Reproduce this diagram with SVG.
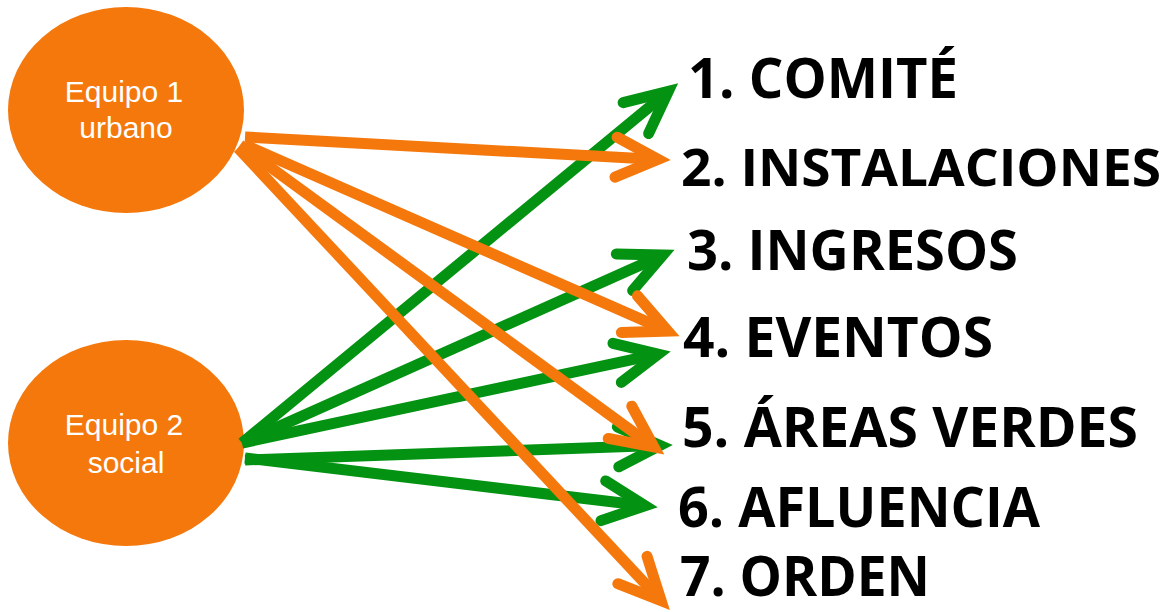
<svg xmlns="http://www.w3.org/2000/svg" width="1172" height="612" viewBox="0 0 1172 612">
<style>
.node{fill:#F4780C;}
.nt{font-family:"Liberation Sans",Arial,sans-serif;font-size:30px;fill:#ffffff;text-anchor:middle;}
.lbl{font-family:"Open Sans","Liberation Sans",sans-serif;font-weight:bold;font-size:56px;fill:#000000;}
.og{stroke:#F4780C;stroke-width:11;fill:none;marker-end:url(#ao);}
.gr{stroke:#039212;stroke-width:11;fill:none;marker-end:url(#ag);}
</style>
<defs>
<marker id="ao" markerUnits="userSpaceOnUse" viewBox="-60 -35 80 70" refX="-4" refY="0" markerWidth="80" markerHeight="70" orient="auto" overflow="visible">
<path d="M-42,-20 L0,0 L-42,20" fill="none" stroke="#F4780C" stroke-width="11" stroke-linecap="round" stroke-linejoin="miter"/>
</marker>
<marker id="ag" markerUnits="userSpaceOnUse" viewBox="-60 -35 80 70" refX="-4" refY="0" markerWidth="80" markerHeight="70" orient="auto" overflow="visible">
<path d="M-42,-20 L0,0 L-42,20" fill="none" stroke="#039212" stroke-width="11" stroke-linecap="round" stroke-linejoin="miter"/>
</marker>
</defs>
<g id="team1">
<ellipse class="node" cx="126" cy="110" rx="118" ry="103"/>
<text class="nt" x="124" y="102">Equipo 1</text>
<text class="nt" x="126" y="138">urbano</text>
</g>
<g id="team2">
<ellipse class="node" cx="126" cy="443" rx="118" ry="103"/>
<text class="nt" x="124" y="435">Equipo 2</text>
<text class="nt" x="126" y="473">social</text>
</g>
<g id="connectors">
<line class="gr" x1="242" y1="443" x2="665.2" y2="93.9"/>
<line class="gr" x1="242" y1="443" x2="659.2" y2="256.7"/>
<line class="gr" x1="242" y1="443" x2="654.3" y2="354.9"/>
<line class="gr" x1="245" y1="460" x2="656" y2="445.5"/>
<line class="gr" x1="245" y1="458" x2="641.1" y2="505.3"/>
<line class="og" x1="245" y1="137" x2="654" y2="159.2"/>
<line class="og" x1="245" y1="145" x2="664.2" y2="329.4"/>
<line class="og" x1="240" y1="145" x2="650.7" y2="444.7"/>
<line class="og" x1="238" y1="148" x2="658.4" y2="597.8"/>
</g>
<g id="item1"><text class="lbl" x="688" y="98" textLength="270" lengthAdjust="spacingAndGlyphs">1. COMITÉ</text></g>
<g id="item2"><text class="lbl" x="681" y="186" style="font-size:52px" textLength="480" lengthAdjust="spacingAndGlyphs">2. INSTALACIONES</text></g>
<g id="item3"><text class="lbl" x="687" y="270" textLength="331" lengthAdjust="spacingAndGlyphs">3. INGRESOS</text></g>
<g id="item4"><text class="lbl" x="683" y="357" textLength="310" lengthAdjust="spacingAndGlyphs">4. EVENTOS</text></g>
<g id="item5"><text class="lbl" x="682" y="447" textLength="456" lengthAdjust="spacingAndGlyphs">5. ÁREAS VERDES</text></g>
<g id="item6"><text class="lbl" x="678" y="527" textLength="362" lengthAdjust="spacingAndGlyphs">6. AFLUENCIA</text></g>
<g id="item7"><text class="lbl" x="680" y="596" textLength="250" lengthAdjust="spacingAndGlyphs">7. ORDEN</text></g>
</svg>
